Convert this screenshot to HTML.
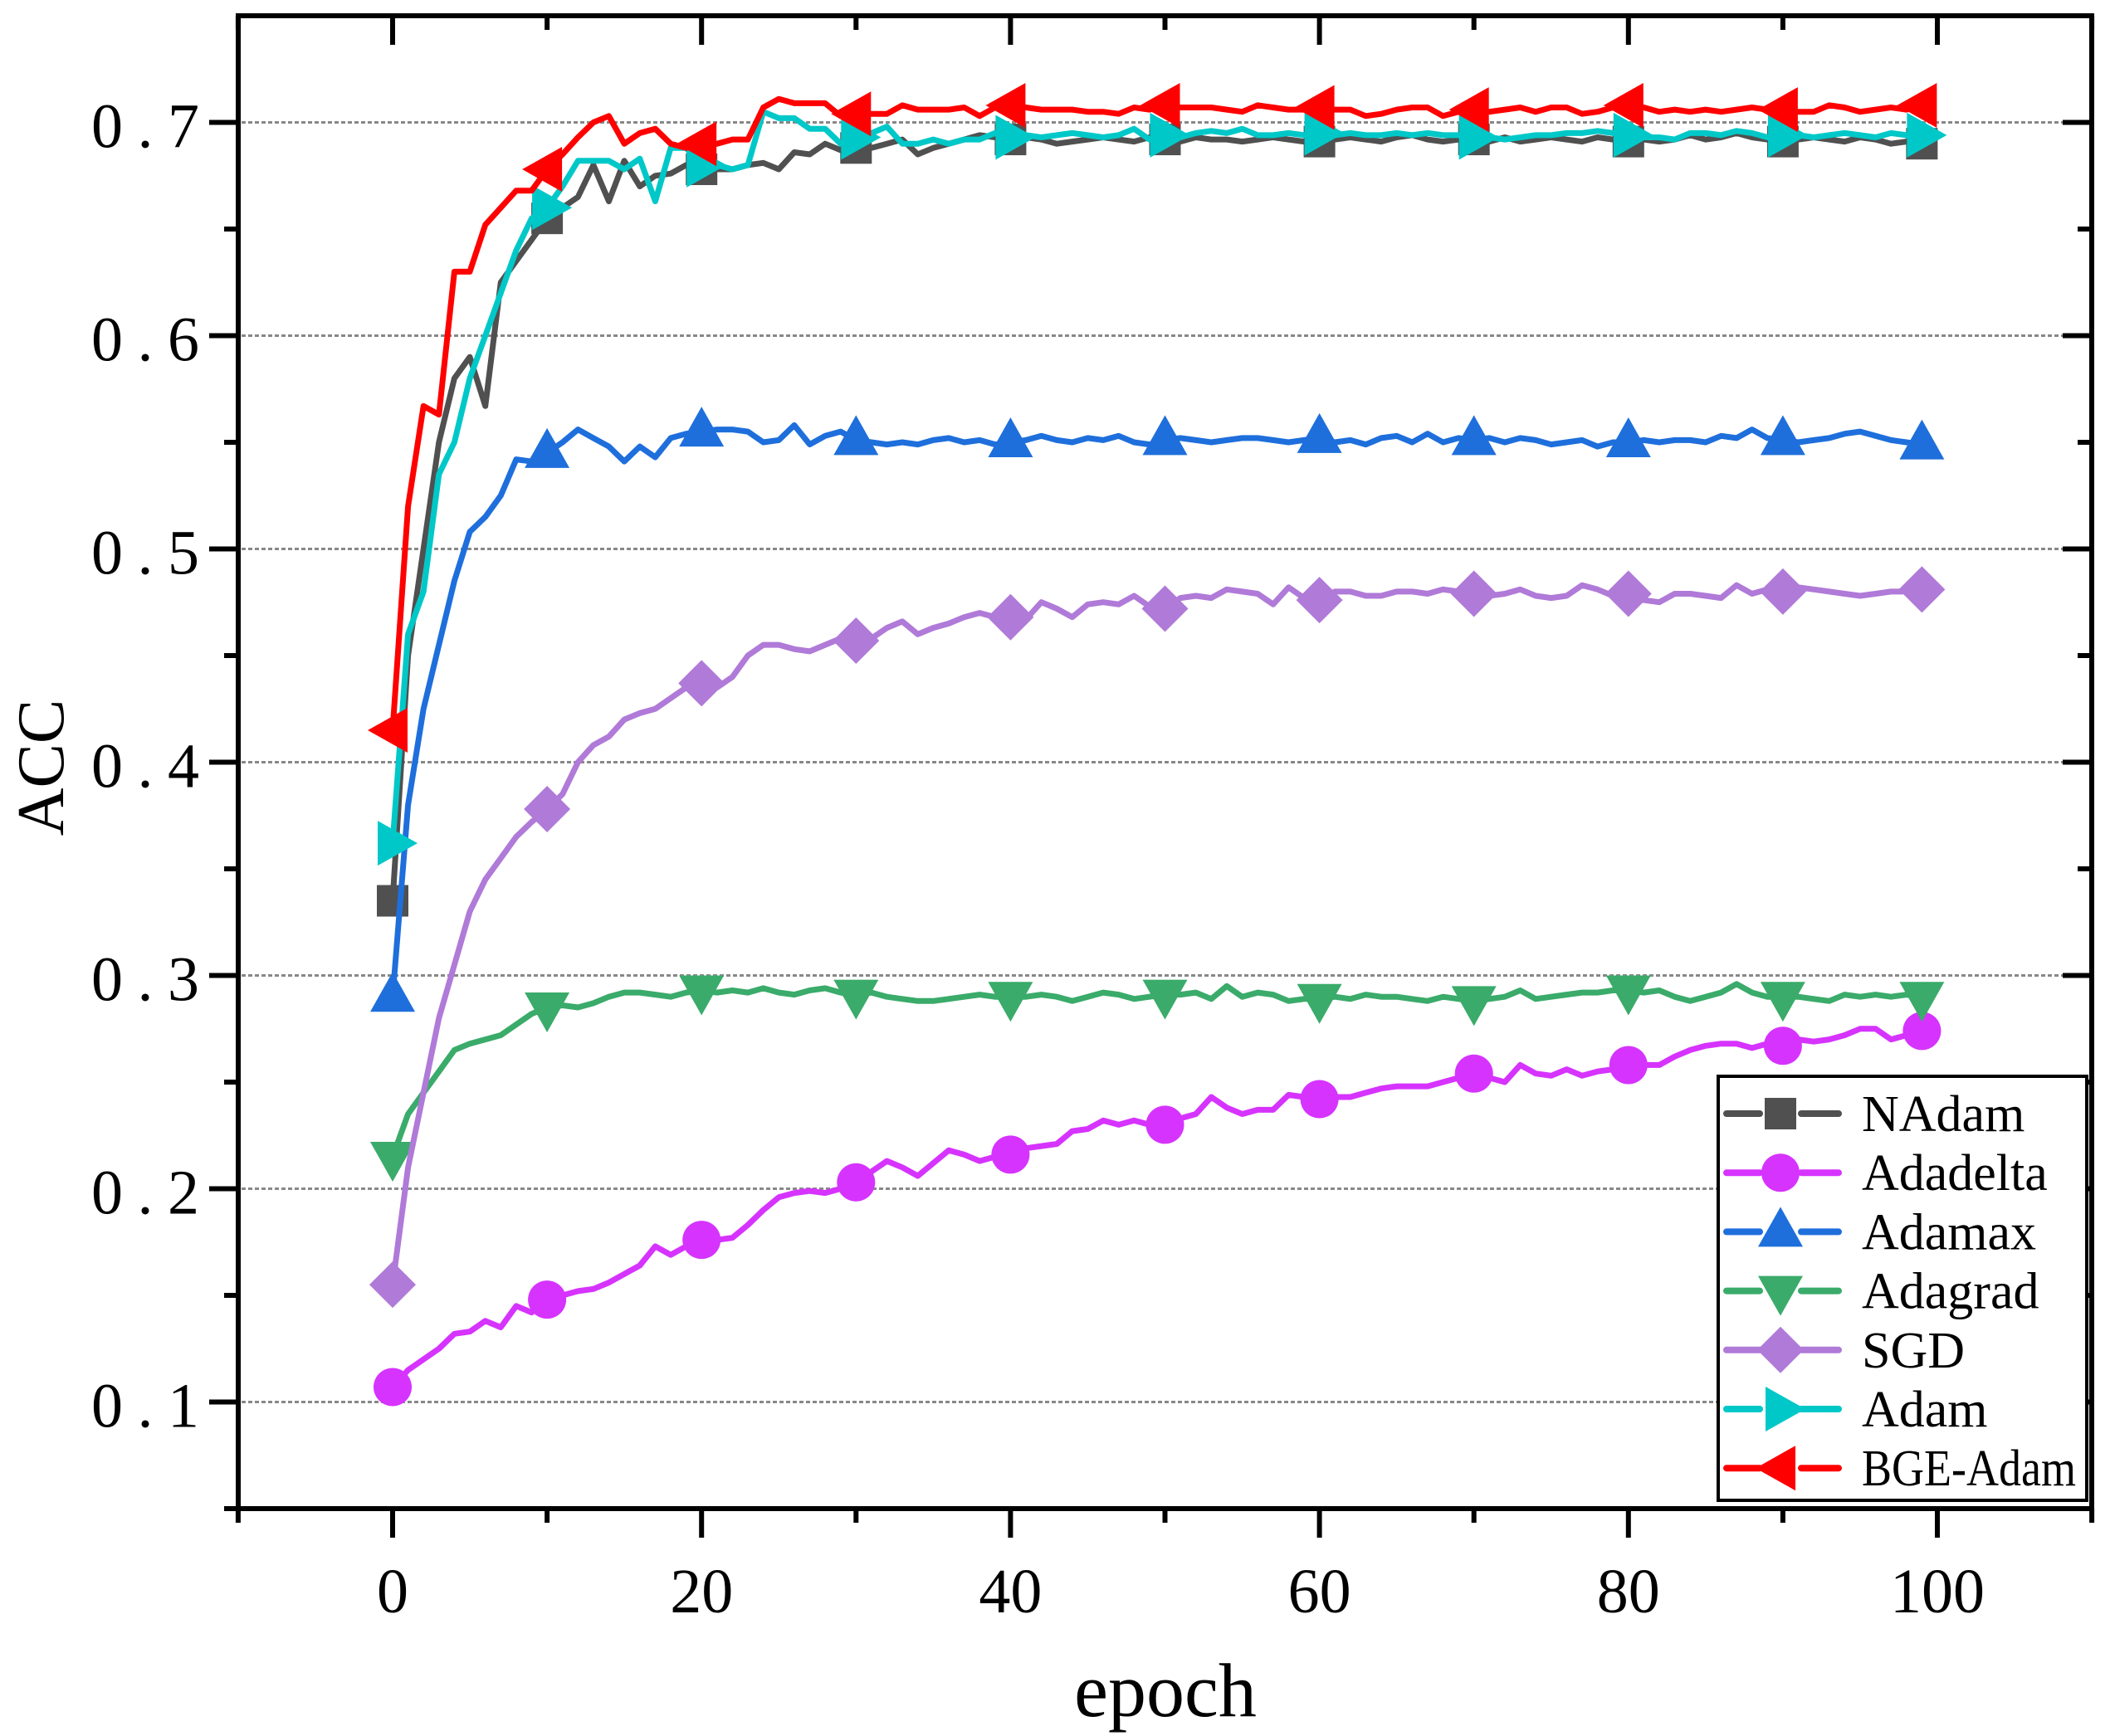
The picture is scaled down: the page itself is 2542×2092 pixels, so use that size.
<!DOCTYPE html>
<html><head><meta charset="utf-8"><style>html,body{margin:0;padding:0;background:#fff}svg{display:block}</style></head>
<body>
<svg id="chart" width="2542" height="2092" viewBox="0 0 2542 2092" xmlns="http://www.w3.org/2000/svg" font-family="'Liberation Serif', 'Noto Serif CJK SC', serif">
<rect x="0" y="0" width="2542" height="2092" fill="#fff"/>
<g id="grid"></g>
<g id="series"></g>
<g id="axes"></g>
<text x="1404" y="2068" font-size="92" text-anchor="middle">epoch</text>
<text transform="translate(76,925) rotate(-90)" font-size="80" text-anchor="middle">ACC</text>
<g id="legend"></g>
</svg>
<script>
const epochs = Array.from({length:100},(_, i)=>i);
const yTicks = [0.1,0.2,0.3,0.4,0.5,0.6,0.7];
const yTickLabels = ["0.1","0.2","0.3","0.4","0.5","0.6","0.7"];
const xTicks = [0,20,40,60,80,100];
const xTickLabels = ["0","20","40","60","80","100"];
const seriesNames = ["NAdam","Adadelta","Adamax","Adagrad","SGD","Adam","BGE-Adam"];
const nadam = [0.335,0.45,0.50,0.55,0.58,0.59,0.567,0.625,0.635,0.645,0.655,0.66,0.665,0.68,0.663,0.682,0.67,0.675,0.676,0.68,0.678,0.678,0.678,0.68,0.681,0.678,0.686,0.685,0.69,0.687,0.688,0.688,0.69,0.692,0.685,0.688,0.69,0.692,0.694,0.693,0.692,0.693,0.692,0.69,0.691,0.692,0.693,0.692,0.691,0.693,0.692,0.691,0.693,0.692,0.692,0.691,0.692,0.693,0.692,0.691,0.691,0.692,0.693,0.692,0.691,0.693,0.694,0.692,0.691,0.692,0.692,0.691,0.693,0.691,0.692,0.693,0.692,0.691,0.693,0.692,0.691,0.692,0.691,0.692,0.694,0.692,0.693,0.695,0.693,0.692,0.691,0.692,0.693,0.692,0.691,0.693,0.692,0.69,0.691,0.69];
const adadelta = [0.107,0.115,0.12,0.125,0.132,0.133,0.138,0.135,0.145,0.142,0.148,0.15,0.152,0.153,0.156,0.16,0.164,0.173,0.169,0.173,0.176,0.176,0.177,0.183,0.19,0.196,0.198,0.199,0.198,0.2,0.203,0.208,0.213,0.21,0.206,0.212,0.218,0.216,0.213,0.215,0.216,0.219,0.22,0.221,0.227,0.228,0.232,0.23,0.232,0.23,0.23,0.233,0.235,0.243,0.238,0.235,0.237,0.237,0.244,0.243,0.242,0.243,0.243,0.245,0.247,0.248,0.248,0.248,0.25,0.252,0.254,0.252,0.25,0.258,0.254,0.253,0.256,0.253,0.255,0.256,0.258,0.258,0.258,0.262,0.265,0.267,0.268,0.268,0.266,0.268,0.267,0.27,0.269,0.27,0.272,0.275,0.275,0.27,0.272,0.274];
const adamax = [0.29,0.38,0.425,0.455,0.485,0.508,0.515,0.525,0.542,0.541,0.545,0.55,0.556,0.552,0.548,0.541,0.548,0.543,0.552,0.554,0.555,0.556,0.556,0.555,0.55,0.551,0.558,0.549,0.553,0.555,0.551,0.55,0.549,0.55,0.549,0.551,0.552,0.55,0.551,0.549,0.55,0.551,0.553,0.551,0.55,0.552,0.551,0.553,0.55,0.549,0.551,0.552,0.551,0.55,0.551,0.552,0.552,0.551,0.55,0.551,0.552,0.55,0.551,0.549,0.552,0.553,0.55,0.554,0.55,0.552,0.551,0.552,0.55,0.552,0.551,0.549,0.55,0.551,0.548,0.55,0.55,0.551,0.55,0.551,0.551,0.55,0.553,0.552,0.556,0.552,0.551,0.55,0.551,0.552,0.554,0.555,0.553,0.551,0.55,0.549];
const adagrad = [0.215,0.235,0.245,0.255,0.265,0.268,0.27,0.272,0.277,0.282,0.285,0.286,0.285,0.287,0.29,0.292,0.292,0.291,0.29,0.292,0.293,0.292,0.293,0.292,0.294,0.292,0.291,0.293,0.294,0.292,0.291,0.292,0.29,0.289,0.288,0.288,0.289,0.29,0.291,0.29,0.29,0.29,0.291,0.29,0.288,0.29,0.292,0.291,0.289,0.29,0.291,0.291,0.292,0.289,0.295,0.29,0.292,0.291,0.288,0.289,0.289,0.29,0.289,0.291,0.29,0.29,0.289,0.288,0.29,0.289,0.288,0.289,0.29,0.293,0.289,0.29,0.291,0.292,0.292,0.293,0.293,0.292,0.293,0.29,0.288,0.29,0.292,0.296,0.292,0.29,0.29,0.29,0.289,0.288,0.291,0.29,0.291,0.29,0.291,0.29];
const sgd = [0.155,0.21,0.245,0.28,0.305,0.33,0.345,0.355,0.365,0.372,0.378,0.385,0.4,0.408,0.412,0.42,0.423,0.425,0.43,0.435,0.437,0.435,0.44,0.45,0.455,0.455,0.453,0.452,0.455,0.458,0.457,0.458,0.463,0.466,0.46,0.463,0.465,0.468,0.47,0.468,0.468,0.467,0.475,0.472,0.468,0.474,0.475,0.474,0.478,0.473,0.472,0.477,0.478,0.477,0.481,0.48,0.479,0.474,0.482,0.477,0.476,0.48,0.48,0.478,0.478,0.48,0.48,0.479,0.481,0.48,0.479,0.478,0.479,0.481,0.478,0.477,0.478,0.483,0.481,0.478,0.479,0.476,0.475,0.479,0.479,0.478,0.477,0.483,0.479,0.481,0.48,0.482,0.481,0.48,0.479,0.478,0.479,0.48,0.48,0.481];
const adam = [0.362,0.46,0.48,0.535,0.55,0.58,0.6,0.62,0.64,0.655,0.66,0.67,0.682,0.682,0.682,0.678,0.683,0.663,0.688,0.688,0.68,0.68,0.678,0.68,0.705,0.702,0.702,0.697,0.697,0.69,0.693,0.695,0.698,0.69,0.69,0.692,0.69,0.692,0.692,0.695,0.693,0.694,0.693,0.694,0.695,0.694,0.693,0.694,0.697,0.692,0.694,0.693,0.695,0.696,0.695,0.697,0.694,0.694,0.695,0.694,0.695,0.694,0.695,0.694,0.694,0.695,0.694,0.695,0.694,0.694,0.693,0.693,0.692,0.693,0.694,0.694,0.695,0.695,0.696,0.695,0.694,0.693,0.693,0.692,0.695,0.695,0.694,0.696,0.695,0.693,0.694,0.694,0.693,0.694,0.695,0.694,0.693,0.695,0.694,0.694];
const bgeAdam = [0.415,0.52,0.567,0.563,0.63,0.63,0.652,0.66,0.668,0.668,0.678,0.685,0.693,0.7,0.703,0.69,0.695,0.697,0.69,0.688,0.69,0.69,0.692,0.692,0.707,0.711,0.709,0.709,0.709,0.703,0.704,0.704,0.704,0.708,0.706,0.706,0.706,0.707,0.703,0.707,0.708,0.707,0.706,0.706,0.706,0.705,0.705,0.704,0.707,0.706,0.708,0.707,0.707,0.707,0.706,0.705,0.708,0.707,0.706,0.706,0.707,0.706,0.706,0.703,0.704,0.706,0.707,0.707,0.703,0.705,0.706,0.705,0.706,0.707,0.705,0.707,0.707,0.704,0.705,0.707,0.708,0.707,0.705,0.706,0.705,0.706,0.705,0.706,0.707,0.706,0.706,0.705,0.705,0.708,0.707,0.705,0.706,0.707,0.706,0.708];
const markerIdx = [0,10,20,30,40,50,60,70,80,90,99];

const NS="http://www.w3.org/2000/svg";
const X0=473, X1=2334, Y0=19, Y1=1818, L=287, R=2520;
const xs = v => X0 + (v/100)*(X1-X0);
const ys = v => Y1 - (v-0.05)/0.7*(Y1-Y0);
function mk(tag, attrs, parent){const e=document.createElementNS(NS,tag);for(const k in attrs)e.setAttribute(k,attrs[k]);parent.appendChild(e);return e;}

const grid=document.getElementById('grid');
yTicks.forEach((t,i)=>{
  const g=mk('line',{x1:L+4,x2:R-4,y1:ys(t),y2:ys(t),stroke:'#888',"stroke-width":3,"stroke-dasharray":"5 3"},grid);
  
  
});

const colors=['#505050','#d633ff','#1e6fdc','#3aab6a','#b07ad8','#00c8c8','#ff0000'];
const shapes=['square','circle','up','down','diamond','right','left'];
const data=[nadam,adadelta,adamax,adagrad,sgd,adam,bgeAdam];

function marker(shape,cx,cy,color,parent){
  let e;
  if(shape==='square') e=mk('rect',{x:cx-19,y:cy-19,width:38,height:38,fill:color},parent);
  else if(shape==='circle') e=mk('circle',{cx:cx,cy:cy,r:23,fill:color},parent);
  else {
    let p;
    if(shape==='up') p=[[cx,cy-30],[cx+27,cy+18],[cx-27,cy+18]];
    else if(shape==='down') p=[[cx,cy+30],[cx+27,cy-18],[cx-27,cy-18]];
    else if(shape==='right') p=[[cx+30,cy],[cx-18,cy-27],[cx-18,cy+27]];
    else if(shape==='left') p=[[cx-30,cy],[cx+18,cy-27],[cx+18,cy+27]];
    else p=[[cx,cy-28],[cx+28,cy],[cx,cy+28],[cx-28,cy]];
    e=mk('polygon',{points:p.map(q=>q.join(',')).join(' '),fill:color},parent);
  }
  return e;
}

const sg=document.getElementById('series');
data.forEach((arr,si)=>{
  const g=mk('g',{},sg);
  
  
  const pts=arr.map((v,i)=>xs(epochs[i]).toFixed(1)+','+ys(v).toFixed(1)).join(' ');
  const pl=mk('polyline',{points:pts,fill:'none',stroke:colors[si],"stroke-width":7,"stroke-linejoin":"round"},g);
  
  
  markerIdx.forEach(i=>{
    const m=marker(shapes[si],xs(epochs[i]),ys(arr[i]),colors[si],g);
    
    
  });
});

const ax=document.getElementById('axes');
const frame=mk('rect',{x:L,y:Y0,width:R-L,height:Y1-Y0,fill:'none',stroke:'#000',"stroke-width":6},ax);


for(let k=1;k<=14;k++){
  const v=0.05*k; if(v>0.751) break;
  const major = (k%2===0);
  const yy=ys(v);
  const len = major?35:17;
  const t1=mk('line',{x1:L-len,x2:L,y1:yy,y2:yy,stroke:'#000',"stroke-width":6},ax);
   
  const t2=mk('line',{x1:R,x2:R-len,y1:yy,y2:yy,stroke:'#000',"stroke-width":6},ax);
   
}
yTicks.forEach((t,i)=>{
  const tx=mk('text',{x:240,y:ys(t)+30,"font-size":76,"text-anchor":"end",textLength:130,lengthAdjust:"spacing"},ax);
  tx.textContent=yTickLabels[i];
  
  
});
for(let v=-10; v<=110; v+=10){
  const major = (v%20===0);
  const xx=xs(v);
  const len = major?35:17;
  const t1=mk('line',{x1:xx,x2:xx,y1:Y1,y2:Y1+len,stroke:'#000',"stroke-width":6},ax);
   
  const t2=mk('line',{x1:xx,x2:xx,y1:Y0,y2:Y0+len,stroke:'#000',"stroke-width":6},ax);
   
}
xTicks.forEach((t,i)=>{
  const tx=mk('text',{x:xs(t),y:1943,"font-size":76,"text-anchor":"middle"},ax);
  tx.textContent=xTickLabels[i];
  
  
});

const lg=document.getElementById('legend');
const box=mk('rect',{x:2070,y:1297,width:444,height:511,fill:'#fff',stroke:'#000',"stroke-width":4},lg);


seriesNames.forEach((n,i)=>{
  const cy=1342+i*71.2;
  const g=mk('g',{},lg);
  
  
  mk('line',{x1:2080,x2:2120,y1:cy,y2:cy,stroke:colors[i],"stroke-width":8,"stroke-linecap":"round"},g);
  mk('line',{x1:2170,x2:2215,y1:cy,y2:cy,stroke:colors[i],"stroke-width":8,"stroke-linecap":"round"},g);
  marker(shapes[i],2145,cy,colors[i],g);
  const tx=mk('text',{x:2243,y:cy+21,"font-size":62},g);
  if(n==='BGE-Adam'){ tx.setAttribute('textLength','258'); tx.setAttribute('lengthAdjust','spacingAndGlyphs'); }
  tx.textContent=n;
  
  
});
</script>
</body></html>
